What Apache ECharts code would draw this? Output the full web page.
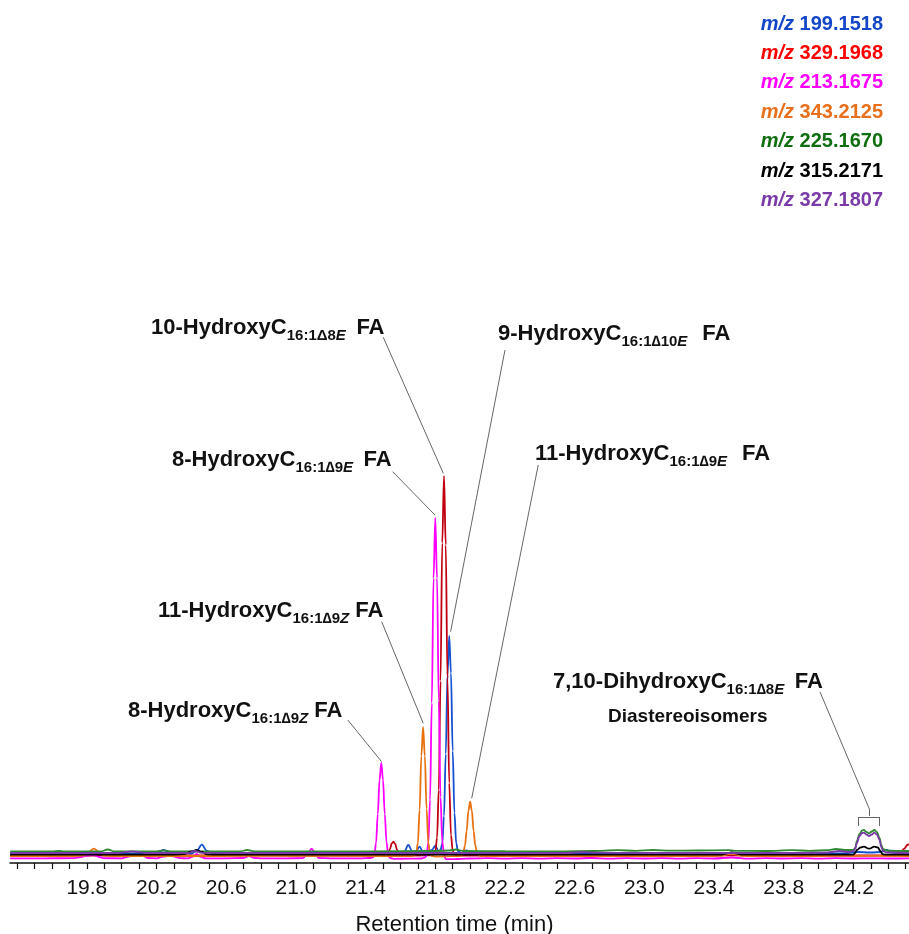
<!DOCTYPE html>
<html><head><meta charset="utf-8">
<script src="https://cdn.jsdelivr.net/npm/echarts@6/dist/echarts.min.js"></script>
<style>html,body{margin:0;padding:0;background:#fff}#c{width:909px;height:934px}</style>
</head><body><div id="c"></div>
<script>
// ---------- axis ----------
const tickLabels = ['19.8','20.2','20.6','21.0','21.4','21.8','22.2','22.6','23.0','23.4','23.8','24.2'];
const tickValues = [19.4,19.5,19.6,19.7,19.8,19.9,20.0,20.1,20.2,20.3,20.4,20.5,20.6,20.7,20.8,20.9,21.0,21.1,21.2,21.3,21.4,21.5,21.6,21.7,21.8,21.9,22.0,22.1,22.2,22.3,22.4,22.5,22.6,22.7,22.8,22.9,23.0,23.1,23.2,23.3,23.4,23.5,23.6,23.7,23.8,23.9,24.0,24.1,24.2,24.3,24.4,24.5];
const xTitle = 'Retention time (min)';

// ---------- series names / colours ----------
const seriesNames = ['m/z 199.1518','m/z 329.1968','m/z 213.1675','m/z 343.2125','m/z 225.1670','m/z 315.2171','m/z 327.1807'];
const legendColors = ['#1446c8','#ff0000','#ff00ff','#e8701c','#0f6e0f','#000000','#7a3aa8'];
const lineColors = ['#1450d0','#c00010','#ff00ff','#e8700f','#2e8a2e','#000000','#7a3aa8'];

// ---------- series values [retention time, intensity] ----------
const mz199 = [[19.36,9.5],[19.50,9.5],[19.62,9.6],[19.655,10.5],[19.69,9.6],[19.85,9.5],[20.00,9.6],[20.18,9.6],[20.21,11],[20.24,13],[20.27,11.2],[20.30,9.6],[20.40,9.5],[20.43,12],[20.46,18.3],[20.49,12],[20.52,9.4],[20.60,9.5],[20.70,9.6],[20.80,9.5],[21.00,9.5],[21.20,9.6],[21.40,9.5],[21.55,9.6],[21.62,10.5],[21.645,18],[21.67,11],[21.69,12],[21.71,16.3],[21.73,11],[21.75,10],[21.78,13],[21.80,17],[21.82,12],[21.83,13],[21.84,19],[21.85,47],[21.86,109],[21.87,188],[21.88,227],[21.89,190],[21.90,112],[21.91,50],[21.92,20],[21.93,12],[21.95,10],[21.98,12.5],[22.01,9.6],[22.10,9.5],[22.16,9.6],[22.19,11],[22.22,9.6],[22.40,9.5],[22.60,9.6],[22.80,9.5],[23.00,9.6],[23.20,9.5],[23.40,9.6],[23.60,9.5],[23.80,9.6],[24.00,9.5],[24.15,9.6],[24.22,11],[24.30,10.5],[24.36,11],[24.39,13],[24.42,10.5],[24.45,9.5],[24.52,9.5]];
const mz329 = [[19.36,7.5],[19.80,7.5],[20.40,7.6],[21.00,7.5],[21.40,7.5],[21.52,7.6],[21.53,9],[21.54,14],[21.55,19.5],[21.56,21.3],[21.57,19],[21.58,13.5],[21.59,9],[21.60,7.6],[21.70,7.5],[21.78,7.6],[21.79,8.5],[21.80,11],[21.81,25],[21.82,73],[21.83,182],[21.84,320],[21.85,387],[21.86,318],[21.87,185],[21.88,80],[21.89,28],[21.90,12],[21.91,8.5],[21.93,7.5],[22.20,7.5],[23.00,7.6],[23.80,7.5],[24.30,7.5],[24.44,7.6],[24.47,10],[24.49,14],[24.51,18],[24.52,19]];
const mz213 = [[19.36,4.7],[19.55,4.7],[19.72,4.8],[19.77,6],[19.80,7.5],[19.84,8],[19.87,6],[19.90,4.8],[20.00,4.7],[20.04,6.5],[20.08,7.6],[20.12,7.5],[20.15,5],[20.20,4.7],[20.24,6.5],[20.28,7.5],[20.31,6],[20.34,4.8],[20.38,4.7],[20.41,6.5],[20.43,9],[20.45,6.5],[20.48,4.7],[20.60,4.7],[20.70,5],[20.73,7],[20.76,5],[20.80,4.7],[20.95,4.7],[21.04,4.8],[21.07,10],[21.09,14.3],[21.11,10],[21.13,5],[21.20,4.7],[21.38,4.7],[21.42,5],[21.44,5.5],[21.45,7],[21.46,20],[21.47,49],[21.48,83],[21.49,100],[21.50,83],[21.51,49],[21.52,21],[21.53,8],[21.54,5],[21.56,4.2],[21.65,4.3],[21.72,4.5],[21.74,5.5],[21.75,7],[21.76,20],[21.77,63],[21.78,160],[21.79,285],[21.80,345],[21.81,285],[21.82,162],[21.83,66],[21.84,22],[21.85,8],[21.86,4],[21.90,3.8],[21.95,4.2],[22.00,4.5],[22.10,4.8],[22.20,4.3],[22.30,4.9],[22.40,4.4],[22.50,4.8],[22.60,4.5],[22.70,5],[22.80,4.4],[22.90,4.8],[23.00,4.5],[23.10,4.9],[23.20,4.3],[23.30,4.8],[23.40,4.5],[23.50,5.5],[23.60,4.4],[23.70,4.9],[23.80,4.5],[23.90,4.8],[24.00,4.4],[24.10,4.8],[24.20,4.5],[24.30,4.7],[24.40,4.5],[24.52,4.6]];
const mz343 = [[19.36,7],[19.70,7],[19.78,7.5],[19.81,11],[19.84,14.3],[19.87,11],[19.90,7.5],[19.95,7],[20.50,7],[21.00,7.1],[21.50,7],[21.66,7],[21.68,7.5],[21.69,9],[21.70,20],[21.71,53],[21.72,107],[21.73,136],[21.74,107],[21.75,54],[21.76,20],[21.77,9],[21.78,7.2],[21.80,6.5],[21.90,6.8],[21.94,7],[21.95,7.5],[21.96,10],[21.97,17],[21.98,32],[21.99,52],[22.00,61.3],[22.01,52],[22.02,32],[22.03,17],[22.04,10],[22.05,7.5],[22.07,6.8],[22.50,7],[23.00,7],[23.40,7],[23.45,7.5],[23.50,9.5],[23.55,7.5],[23.60,7],[24.00,7],[24.20,7.2],[24.52,7]];
const mz225 = [[19.36,11.5],[19.60,11.5],[19.64,12],[19.67,11.5],[19.88,11.5],[19.92,13.5],[19.96,11.5],[20.20,11.6],[20.24,12.5],[20.28,11.6],[20.68,11.5],[20.72,13],[20.76,11.6],[21.00,11.5],[21.40,11.6],[21.80,12],[21.88,12.5],[21.92,13.5],[21.96,12],[22.20,11.8],[22.50,11.6],[22.70,12],[22.85,12.8],[22.95,12.2],[23.05,13],[23.15,12.3],[23.30,12.5],[23.48,12.8],[23.52,12.2],[23.70,12],[23.85,12.8],[23.95,12.2],[24.05,12.8],[24.10,14],[24.15,13],[24.20,13],[24.21,15],[24.22,22],[24.235,29],[24.25,32.5],[24.26,33],[24.275,31],[24.29,29.7],[24.305,31.5],[24.32,33],[24.335,31],[24.35,25],[24.36,18],[24.37,14],[24.39,12.5],[24.45,12],[24.52,12]];
const mz315 = [[19.36,8.3],[20.00,8.3],[20.30,8.3],[20.36,9],[20.40,11.5],[20.43,13],[20.46,11],[20.49,8.6],[20.55,8.3],[21.00,8.3],[21.50,8.3],[22.00,8.3],[23.00,8.3],[23.44,8.4],[23.47,9.5],[23.50,10.5],[23.53,9.5],[23.56,8.4],[24.00,8.3],[24.20,8.4],[24.21,10],[24.22,13],[24.24,15.5],[24.26,16.3],[24.29,14.3],[24.32,16.3],[24.34,15.5],[24.355,12],[24.365,9],[24.38,8.3],[24.52,8.3]];
const mz327 = [[19.36,10],[19.98,10],[20.02,10.8],[20.06,11.7],[20.10,10.8],[20.14,10],[20.38,10],[20.42,12],[20.46,10.2],[20.60,10],[21.00,10],[21.50,10],[21.80,10],[22.00,10],[22.55,10],[22.65,11],[22.72,10.3],[23.00,10],[23.50,10],[23.90,10],[24.05,10.5],[24.12,12],[24.17,11],[24.20,12],[24.21,14],[24.22,20],[24.235,27],[24.25,30],[24.26,30.3],[24.275,28.5],[24.29,27],[24.305,28.5],[24.32,30.3],[24.335,28.5],[24.35,23],[24.36,16],[24.37,12],[24.39,10.5],[24.52,10]];
const seriesValues = [mz199, mz329, mz213, mz343, mz225, mz315, mz327];

// ---------- peak annotations: leader lines in data coordinates ----------
const leaderLines = [
  [[21.5015,525.7],[21.846,389.7]],
  [[22.200,513],[21.888,231.3]],
  [[21.5555,391.3],[21.798,348]],
  [[22.391,398],[22.009,64.7]],
  [[21.4923,241.3],[21.731,139.7]],
  [[21.298,143],[21.492,101.3]],
  [[24.0084,171],[24.2914,54]],
  [[24.2914,54],[24.2914,47]],
  [[24.2283,46],[24.3501,46]],
  [[24.2283,46],[24.2283,37]],
  [[24.3501,46],[24.3501,37]]
];
const peakLabels = [
  {pre:'10-HydroxyC', sub:'16:1Δ8', it:'E', post:'\u2009 FA', x:151, base:336},
  {pre:'9-HydroxyC', sub:'16:1∆10', it:'E', post:'\u2009\u2009 FA', x:498, base:342},
  {pre:'8-HydroxyC', sub:'16:1∆9', it:'E', post:'\u2009 FA', x:172, base:468},
  {pre:'11-HydroxyC', sub:'16:1∆9', it:'E', post:'\u2009\u2009 FA', x:535, base:462},
  {pre:'11-HydroxyC', sub:'16:1∆9', it:'Z', post:' FA', x:158, base:619},
  {pre:'8-HydroxyC', sub:'16:1∆9', it:'Z', post:' FA', x:128, base:719},
  {pre:'7,10-DihydroxyC', sub:'16:1∆8', it:'E', post:'\u2009 FA', x:553, base:690}
];
const extraLabel = {text:'Diastereoisomers', x:608, mid:717};

const FONT = "'Liberation Sans', Arial, Helvetica, sans-serif";
const chart = echarts.init(document.getElementById('c'), null, {renderer:'canvas'});

const series = seriesNames.map((n,i)=>({
  name:n, type:'line', data:seriesValues[i], showSymbol:false, symbol:'none',
  smooth:0.35, smoothMonotone:'x', clip:true,
  lineStyle:{color:lineColors[i], width:1.8}, itemStyle:{color:lineColors[i]},
  emphasis:{disabled:true}, z:2+i
}));
series.push({
  name:'annotations', type:'line', data:[], silent:true, clip:false,
  markLine:{silent:true, symbol:['none','none'], animation:false,
    label:{show:false}, emphasis:{disabled:true},
    lineStyle:{color:'#555', width:0.9, type:'solid'},
    data: leaderLines.map(l=>[{coord:l[0]},{coord:l[1]}])}
});

const rich = {
  m:{fontFamily:FONT, fontSize:22, fontWeight:'bold', lineHeight:22, verticalAlign:'top', fill:'#111', color:'#111'},
  s:{fontFamily:FONT, fontSize:15, fontWeight:'bold', lineHeight:26.5, verticalAlign:'bottom', fill:'#111', color:'#111'},
  si:{fontFamily:FONT, fontSize:15, fontWeight:'bold', fontStyle:'italic', lineHeight:26.5, verticalAlign:'bottom', fill:'#111', color:'#111'}
};
const graphics = peakLabels.map(p=>({
  type:'text', silent:true,
  style:{x:p.x, y:p.base-18.7, text:'{m|'+p.pre+'}{s|'+p.sub+'}{si|'+p.it+'}{m|'+p.post+'}',
    rich:rich, align:'left', verticalAlign:'top', textAlign:'left', textVerticalAlign:'top', fill:'#111'}
}));
graphics.push({type:'text', silent:true, style:{x:extraLabel.x, y:extraLabel.mid, text:extraLabel.text,
  font:'bold 19px '+FONT, fill:'#111', align:'left', verticalAlign:'middle', textAlign:'left', textVerticalAlign:'middle'}});

chart.setOption({
  animation:false,
  backgroundColor:'#fff',
  grid:{left:10, right:0, top:0, bottom:71, containLabel:false, outerBoundsMode:'none'},
  xAxis:{type:'value', min:19.359, max:24.519,
    name:xTitle, nameLocation:'middle', nameGap:51,
    nameTextStyle:{fontFamily:FONT, fontSize:22, color:'#111', padding:[0,10,0,0]},
    axisLine:{show:true, lineStyle:{color:'#111', width:1.5}},
    axisTick:{show:true, inside:false, length:6, lineStyle:{color:'#111', width:1.2}, customValues:tickValues},
    axisLabel:{show:true, margin:15, fontFamily:FONT, fontSize:21, color:'#111',
      customValues:tickLabels.map(Number), formatter:v=>Number(v).toFixed(1)},
    splitLine:{show:false}},
  yAxis:{type:'value', min:0, max:863, show:false, splitLine:{show:false}},
  legend:{orient:'vertical', right:21, top:9, itemWidth:0, itemHeight:20, itemGap:9.4, icon:'none',
    padding:5, selectedMode:false,
    formatter:n=>{const p=n.split(' '); return '{i|'+p[0]+'} {n|'+p[1]+'}';},
    data:seriesNames.map((n,i)=>({name:n, icon:'none', textStyle:{color:legendColors[i], fontFamily:FONT, fontSize:20, fontWeight:'bold', lineHeight:20,
      rich:{i:{color:legendColors[i], fontFamily:FONT, fontSize:20, fontWeight:'bold', fontStyle:'italic', lineHeight:20},
            n:{color:legendColors[i], fontFamily:FONT, fontSize:20, fontWeight:'bold', lineHeight:20}}}})),
    textStyle:{fontFamily:FONT, fontSize:20, fontWeight:'bold'}},
  tooltip:{show:false},
  series:series,
  graphic:graphics
});
</script></body></html>
